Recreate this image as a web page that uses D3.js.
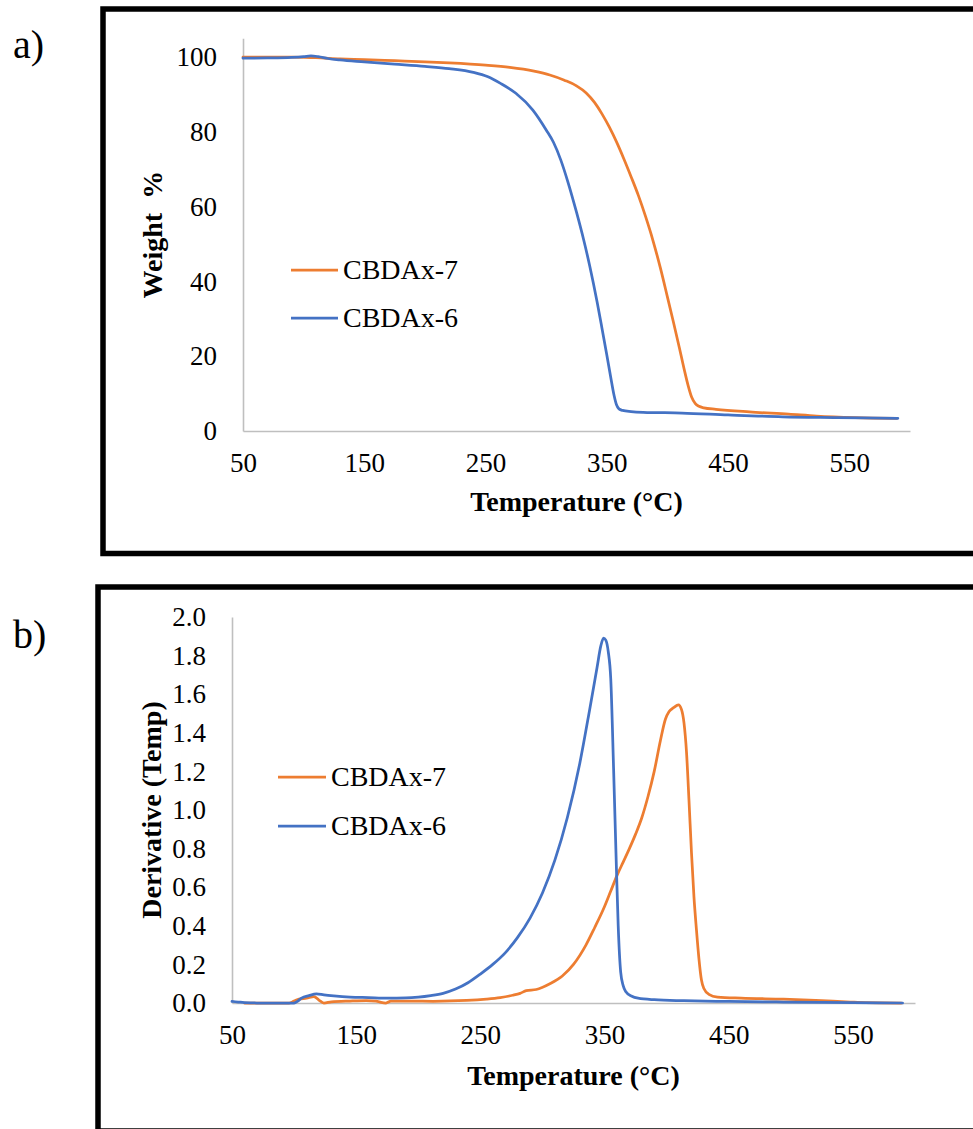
<!DOCTYPE html>
<html>
<head>
<meta charset="utf-8">
<script src="https://cdn.jsdelivr.net/npm/d3@7"></script>
<style>
  html, body { margin: 0; padding: 0; background: #fff; }
  svg { display: block; }
  text { font-family: "Liberation Serif", "Times New Roman", serif; fill: #000; }
</style>
</head>
<body>
<svg id="fig" width="973" height="1129"></svg>
<script>
// ---- data ----
const seriesNames = ["CBDAx-7", "CBDAx-6"];
const seriesColors = ["#ED7D31", "#4472C4"];

const xTicks = [50, 150, 250, 350, 450, 550];
const weightTicks = [0, 20, 40, 60, 80, 100];
const derivTicks = [0, 0.2, 0.4, 0.6, 0.8, 1.0, 1.2, 1.4, 1.6, 1.8, 2.0];

// TGA: weight % vs temperature (°C)
const tgaTemp7 = [50, 70, 90, 110, 130, 150, 175, 200, 220, 250, 270, 290, 303, 315, 325, 333, 340, 346, 352, 358, 364, 370, 376, 382, 388, 394, 400, 405, 410, 414, 417, 420, 423, 426, 430, 440, 467.6, 500, 523, 555, 589];
const tgaWeight7 = [100.0, 100.0, 99.95, 99.8, 99.5, 99.3, 99.0, 98.7, 98.4, 97.8, 97.2, 96.2, 95.2, 93.8, 92.3, 90.4, 87.8, 84.8, 81.3, 77.3, 72.8, 68.0, 63.0, 57.3, 51.0, 43.8, 35.8, 29.0, 22.0, 16.2, 12.2, 9.0, 7.3, 6.6, 6.2, 5.8, 5.1, 4.5, 4.0, 3.6, 3.4];

const tgaTemp6 = [50, 70, 90, 100, 106, 112, 120, 130, 150, 175, 200, 220, 240, 252, 262, 275, 289, 300, 306, 312, 318, 325, 331, 336, 342, 346, 350, 353, 356, 358, 360, 363, 370, 380, 412, 450, 495, 540, 590];
const tgaWeight6 = [99.7, 99.75, 99.9, 100.1, 100.3, 100.1, 99.6, 99.2, 98.7, 98.1, 97.5, 96.9, 95.9, 94.7, 93.0, 90.3, 85.8, 80.5, 77.2, 72.5, 66.5, 58.5, 51.0, 44.0, 34.5, 27.5, 20.3, 14.8, 9.5, 7.0, 5.9, 5.5, 5.2, 5.0, 4.8, 4.3, 3.8, 3.6, 3.4];

// DTG: derivative weight vs temperature (°C)
const dtgTemp7 = [60, 96, 100, 104, 110, 116, 120, 124, 130, 145, 158, 166, 170, 174, 178, 190, 212, 239, 255, 266, 276, 282, 287, 295, 306, 316, 325, 335, 342, 350, 355, 360, 365, 370, 375, 380, 385, 390, 395, 399, 402, 405.6, 409.5, 412, 414, 416, 418, 420, 422, 424, 426, 428, 430, 434, 441, 460, 494, 520, 548, 560, 589];
const dtgDeriv7 = [0, 0, 0.01, 0.02, 0.025, 0.033, 0.015, 0, 0.006, 0.01, 0.012, 0.01, 0.003, 0, 0.01, 0.01, 0.009, 0.013, 0.02, 0.028, 0.04, 0.05, 0.064, 0.07, 0.1, 0.14, 0.2, 0.3, 0.39, 0.5, 0.58, 0.66, 0.73, 0.8, 0.875, 0.96, 1.07, 1.2, 1.36, 1.47, 1.51, 1.53, 1.545, 1.52, 1.45, 1.3, 1.05, 0.78, 0.55, 0.38, 0.23, 0.12, 0.075, 0.045, 0.031, 0.025, 0.02, 0.014, 0.005, 0.002, 0];

const dtgTemp6 = [50, 55, 60, 70, 100, 103, 106, 112, 118, 124, 132, 145, 160, 175, 190, 200, 210, 220, 230, 240, 250, 260, 270, 280, 290, 300, 310, 320, 330, 338, 344, 347, 349.2, 351, 353, 355, 357.3, 359.6, 361, 363, 365, 367, 372, 377, 390, 414, 450, 494, 550, 590];
const dtgDeriv6 = [0.008, 0.005, 0.002, 0, 0, 0.01, 0.025, 0.038, 0.047, 0.042, 0.037, 0.031, 0.028, 0.025, 0.026, 0.03, 0.038, 0.05, 0.072, 0.105, 0.15, 0.2, 0.26, 0.34, 0.44, 0.57, 0.74, 0.96, 1.24, 1.52, 1.74, 1.85, 1.89, 1.88, 1.82, 1.68, 1.21, 0.69, 0.4, 0.16, 0.09, 0.06, 0.035, 0.025, 0.017, 0.012, 0.008, 0.005, 0.002, 0];

// ---- drawing ----
const svg = d3.select("#fig");
const LINE_W = 2.75;
const AXIS_GRAY = "#BFBFBF";

function zip(xs, ys) { return xs.map((t, i) => ({ t, v: ys[i] })); }

function panel(cfg) {
  const g = svg.append("g");

  // frame around the panel
  g.append("rect")
    .attr("x", cfg.frame.x).attr("y", cfg.frame.y)
    .attr("width", cfg.frame.w).attr("height", cfg.frame.h)
    .attr("fill", "none").attr("stroke", "#000").attr("stroke-width", 5.5);

  // panel letter
  g.append("text")
    .attr("x", 13).attr("y", cfg.letterY)
    .attr("font-size", 40)
    .text(cfg.letter);

  const x = d3.scaleLinear().domain([50, 600]).range(cfg.xRange);
  const y = d3.scaleLinear().domain(cfg.yDomain).range(cfg.yRange);

  // x axis
  const xa = g.append("g")
    .attr("transform", `translate(0,${cfg.yRange[0]})`)
    .call(d3.axisBottom(x).tickValues(xTicks).tickSize(0).tickSizeOuter(0).tickPadding(22)
      .tickFormat(d3.format("d")));
  xa.select(".domain").attr("stroke", AXIS_GRAY).attr("stroke-width", 1.6);
  xa.selectAll("text").attr("font-size", 27).attr("font-family", "Liberation Serif").attr("fill", "#000");

  // y axis
  const ya = g.append("g")
    .attr("transform", `translate(${cfg.xRange[0]},0)`)
    .call(d3.axisLeft(y).tickValues(cfg.yTicks).tickSize(0).tickSizeOuter(0).tickPadding(26)
      .tickFormat(cfg.yFormat));
  ya.select(".domain").attr("stroke", AXIS_GRAY).attr("stroke-width", 1.6);
  ya.selectAll("text").attr("font-size", 27).attr("font-family", "Liberation Serif").attr("fill", "#000");

  // axis titles
  g.append("text")
    .attr("x", (cfg.xRange[0] + cfg.xRange[1]) / 2).attr("y", cfg.xTitleY)
    .attr("text-anchor", "middle").attr("font-size", 28).attr("font-weight", "bold")
    .text("Temperature (°C)");
  g.append("text")
    .attr("transform", `translate(${cfg.yTitleX},${(cfg.yRange[0] + cfg.yRange[1]) / 2}) rotate(-90)`)
    .attr("text-anchor", "middle").attr("font-size", 28).attr("font-weight", "bold")
    .attr("xml:space", "preserve")
    .text(cfg.yTitle);

  // curves
  const line = d3.line().x(d => x(d.t)).y(d => y(d.v)).curve(d3.curveMonotoneX);
  cfg.series.forEach((s, i) => {
    g.append("path")
      .datum(s)
      .attr("d", line)
      .attr("fill", "none")
      .attr("stroke", seriesColors[i])
      .attr("stroke-width", LINE_W)
      .attr("stroke-linejoin", "round")
      .attr("stroke-linecap", "round");
  });

  // legend
  seriesNames.forEach((name, i) => {
    const ly = cfg.legend.y[i];
    g.append("line")
      .attr("x1", cfg.legend.x1).attr("x2", cfg.legend.x2)
      .attr("y1", ly).attr("y2", ly)
      .attr("stroke", seriesColors[i]).attr("stroke-width", LINE_W);
    g.append("text")
      .attr("x", cfg.legend.x2 + 5).attr("y", ly + 9)
      .attr("font-size", 28)
      .text(name);
  });
}

panel({
  letter: "a)", letterY: 58,
  frame: { x: 103, y: 9, w: 960, h: 544.5 },
  xRange: [243, 910], yDomain: [0, 105], yRange: [431, 431 - 105 * 3.74],
  yTicks: weightTicks, yFormat: d3.format("d"),
  xTitleY: 511, yTitleX: 162, yTitle: "Weight  %",
  series: [zip(tgaTemp7, tgaWeight7), zip(tgaTemp6, tgaWeight6)],
  legend: { x1: 291, x2: 338, y: [270, 318] }
});

panel({
  letter: "b)", letterY: 648,
  frame: { x: 98, y: 587, w: 960, h: 544 },
  xRange: [232, 915], yDomain: [0, 2], yRange: [1003, 617],
  yTicks: derivTicks, yFormat: d3.format(".1f"),
  xTitleY: 1085, yTitleX: 161, yTitle: "Derivative (Temp)",
  series: [zip(dtgTemp7, dtgDeriv7), zip(dtgTemp6, dtgDeriv6)],
  legend: { x1: 278, x2: 326, y: [777, 826] }
});
</script>
</body>
</html>
